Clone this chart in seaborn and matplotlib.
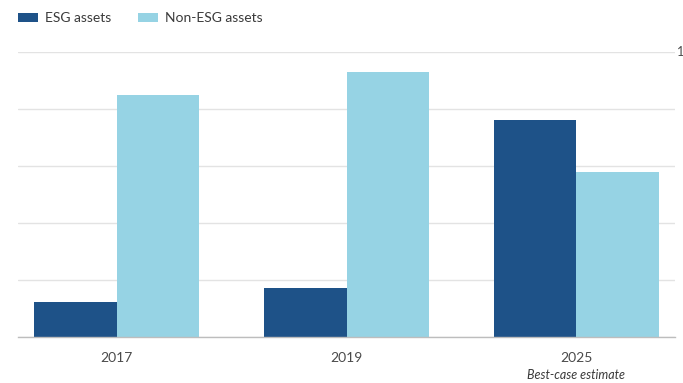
import matplotlib
matplotlib.use("Agg")
import matplotlib.pyplot as plt
import seaborn as sns
import pandas as pd
from matplotlib.patches import Patch

years = ["2017", "2019", "2025"]
esg_assets = [12.3, 17.2, 76.1]
non_esg_assets = [84.9, 93.0, 58.0]
series_names = ["ESG assets", "Non-ESG assets"]
colors = ["#1e5288", "#96d3e4"]
y_ticks = [0, 20, 40, 60, 80, 100]

df = pd.DataFrame({
    "year": years * 2,
    "value": esg_assets + non_esg_assets,
    "series": [series_names[0]] * 3 + [series_names[1]] * 3,
})

sns.set_style("white")
plt.rcParams["font.family"] = ["Lato", "DejaVu Sans"]

fig = plt.figure(figsize=(6.83, 3.83), dpi=100)
ax = fig.add_axes([18 / 683, 1 - 337 / 383, 657 / 683, 285 / 383])

sns.barplot(data=df, x="year", y="value", hue="series", palette=colors,
            width=0.72, gap=0, saturation=1, linewidth=0, ax=ax, legend=False)

ax.set_xlim(-0.43, 2.43)
ax.set_ylim(0, 100)
ax.set_yticks(y_ticks)
ax.yaxis.grid(True, color="#e3e3e3", linewidth=1)
ax.set_axisbelow(True)
ax.tick_params(axis="y", length=0, labelleft=False)
for s in ["left", "right", "top"]:
    ax.spines[s].set_visible(False)
ax.spines["bottom"].set_color("#bdbdbd")
ax.spines["bottom"].set_linewidth(1)
ax.tick_params(axis="x", length=5, color="#bdbdbd", width=1, pad=6,
               labelsize=10, labelcolor="#4a4a4a")
ax.set_xlabel("")
ax.set_ylabel("")

# top value of the scale sits past the right edge of the plot
fig.text(677 / 683, 1 - 52 / 383, "100", fontsize=9, color="#4a4a4a",
         va="center", ha="left")

# annotation under the projected year
fig.text(ax.transData.transform((2, 0))[0] / fig.bbox.width, 1 - 375 / 383,
         "Best-case estimate", ha="center", va="center", fontsize=9,
         style="italic", color="#3a3a3a")

handles = [Patch(facecolor=c, edgecolor="none") for c in colors]
fig.legend(handles, series_names, loc="upper left", bbox_to_anchor=(0.008, 1.0),
           ncol=2, frameon=False, fontsize=10, handlelength=1.45, handleheight=0.6,
           handletextpad=0.5, columnspacing=1.9, labelcolor="#3a3a3a")

fig.savefig("out.png", dpi=100)
